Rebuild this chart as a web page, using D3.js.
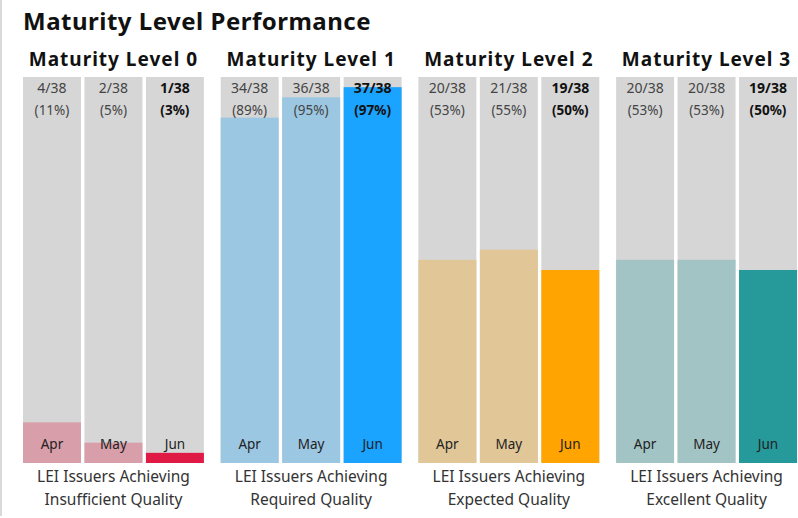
<!DOCTYPE html>
<html>
<head>
  <meta charset="utf-8">
  <title>Maturity Level Performance</title>
  <style>
    body {
      margin: 0;
      background: #fff;
    }
    svg {
      display: block;
      font-family: "Noto Sans", sans-serif;
    }
    .title, .level-title {
      font-weight: 700;
      fill: #111;
    }
    .val {
      fill: #444;
    }
    .val.latest {
      font-weight: 700;
      fill: #111;
    }
    .month {
      fill: #222;
    }
    .caption {
      fill: #333;
    }
  </style>
</head>
<body>
  <svg width="798" height="518"></svg>

  <script src="https://d3js.org/d3.v7.min.js"></script>
  <script>
    var levels = ['Maturity Level 0', 'Maturity Level 1', 'Maturity Level 2', 'Maturity Level 3'];
    var months = ['Apr', 'May', 'Jun'];
    var total = 38;
    // issuers per level, Apr / May / Jun
    var level0 = [4, 2, 1];
    var level1 = [34, 36, 37];
    var level2 = [20, 21, 19];
    var level3 = [20, 20, 19];
    var captions = [
      ['LEI Issuers Achieving', 'Insufficient Quality'],
      ['LEI Issuers Achieving', 'Required Quality'],
      ['LEI Issuers Achieving', 'Expected Quality'],
      ['LEI Issuers Achieving', 'Excellent Quality']
    ];
    // [earlier months, latest month]
    var colours = [
      ['#d89ea9', '#de1a45'],
      ['#9cc7e2', '#1aa3ff'],
      ['#e1c798', '#ffa400'],
      ['#a2c4c5', '#26999b']
    ];

    var counts = [level0, level1, level2, level3];

    var svg = d3.select('svg');

    // thin grey rule down the left side
    svg.append('rect')
      .attr('x', 0).attr('y', 0)
      .attr('width', 2).attr('height', 516)
      .attr('fill', '#d9d9d9');

    svg.append('text')
      .attr('class', 'title')
      .attr('x', 23)
      .attr('y', 30)
      .style('font-size', '24px')
      .style('letter-spacing', '0.5px')
      .text('Maturity Level Performance');

    var xPanel = d3.scaleBand()
      .domain(levels)
      .range([23, 797])
      .paddingInner(0.085);

    var xBar = d3.scaleBand()
      .domain(months)
      .range([0, xPanel.bandwidth()])
      .paddingInner(0.057);

    var y = d3.scaleLinear()
      .domain([0, 1])
      .range([463, 77]);

    var panels = svg.selectAll('g.panel')
      .data(levels)
      .enter().append('g')
      .attr('class', 'panel')
      .attr('transform', function(d) { return 'translate(' + xPanel(d) + ',0)'; });

    panels.append('text')
      .attr('class', 'level-title')
      .attr('x', xPanel.bandwidth() / 2)
      .attr('y', 66)
      .attr('text-anchor', 'middle')
      .style('font-size', '19px')
      .style('letter-spacing', '1px')
      .text(function(d) { return d; });

    panels.each(function(level, li) {
      var g = d3.select(this);
      var bars = g.selectAll('g.bar')
        .data(counts[li].map(function(v, mi) {
          return { month: months[mi], value: v, latest: mi === months.length - 1 };
        }))
        .enter().append('g')
        .attr('class', 'bar')
        .attr('transform', function(d) { return 'translate(' + xBar(d.month) + ',0)'; });

      bars.append('rect')
        .attr('x', 0)
        .attr('y', y(1))
        .attr('width', xBar.bandwidth())
        .attr('height', y(0) - y(1))
        .attr('fill', '#d6d6d6');

      bars.append('rect')
        .attr('x', 0)
        .attr('y', function(d) { return y(d.value / total); })
        .attr('width', xBar.bandwidth())
        .attr('height', function(d) { return y(0) - y(d.value / total); })
        .attr('fill', function(d) { return d.latest ? colours[li][1] : colours[li][0]; });

      bars.append('text')
        .attr('class', function(d) { return d.latest ? 'val latest' : 'val'; })
        .attr('x', xBar.bandwidth() / 2)
        .attr('y', 93)
        .attr('text-anchor', 'middle')
        .style('font-size', '14px')
        .text(function(d) { return d.value + '/' + total; });

      bars.append('text')
        .attr('class', function(d) { return d.latest ? 'val latest' : 'val'; })
        .attr('x', xBar.bandwidth() / 2)
        .attr('y', 115)
        .attr('text-anchor', 'middle')
        .style('font-size', '13.5px')
        .text(function(d) { return '(' + Math.round(d.value / total * 100) + '%)'; });

      bars.append('text')
        .attr('class', 'month')
        .attr('x', xBar.bandwidth() / 2)
        .attr('y', 449)
        .attr('text-anchor', 'middle')
        .style('font-size', '13.5px')
        .text(function(d) { return d.month; });

      g.selectAll('text.caption')
        .data(captions[li])
        .enter().append('text')
        .attr('class', 'caption')
        .attr('x', xPanel.bandwidth() / 2)
        .attr('y', function(d, i) { return 482 + i * 23; })
        .attr('text-anchor', 'middle')
        .style('font-size', '15.5px')
        .text(function(d) { return d; });
    });
  </script>
</body>
</html>
